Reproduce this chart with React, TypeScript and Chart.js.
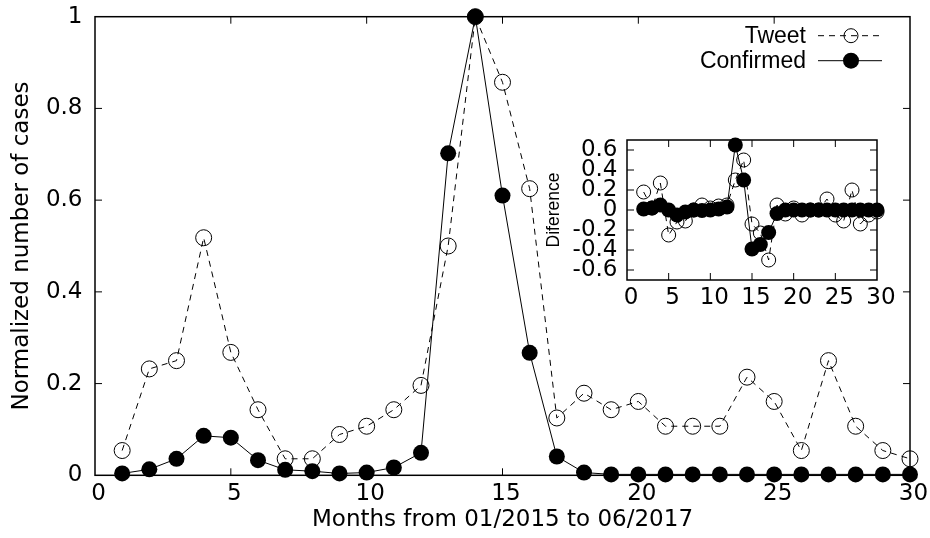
import React, { useEffect, useRef } from "react";
import { Chart, registerables } from "chart.js";

Chart.register(...registerables);

// ---------------- data ----------------
const months = [1, 2, 3, 4, 5, 6, 7, 8, 9, 10, 11, 12, 13, 14, 15, 16, 17, 18, 19, 20, 21, 22, 23, 24, 25, 26, 27, 28, 29, 30];
const tweet = [0.054, 0.232, 0.25, 0.518, 0.268, 0.143, 0.036, 0.036, 0.089, 0.107, 0.143, 0.196, 0.5, 1.0, 0.857, 0.625, 0.125, 0.179, 0.143, 0.161, 0.107, 0.107, 0.107, 0.214, 0.161, 0.054, 0.25, 0.107, 0.054, 0.036];
const confirmed = [0.004, 0.013, 0.036, 0.086, 0.082, 0.033, 0.012, 0.009, 0.004, 0.006, 0.017, 0.049, 0.702, 1.0, 0.61, 0.267, 0.041, 0.006, 0.002, 0.002, 0.002, 0.002, 0.002, 0.002, 0.002, 0.002, 0.002, 0.002, 0.002, 0.002];

const diffMonths = [2, 3, 4, 5, 6, 7, 8, 9, 10, 11, 12, 13, 14, 15, 16, 17, 18, 19, 20, 21, 22, 23, 24, 25, 26, 27, 28, 29, 30];
const tweetDiff = [0.18, 0.02, 0.27, -0.25, -0.12, -0.11, 0.0, 0.05, 0.02, 0.04, 0.05, 0.3, 0.5, -0.14, -0.23, -0.5, 0.05, -0.04, 0.02, -0.05, 0.0, 0.0, 0.11, -0.05, -0.11, 0.2, -0.14, -0.05, -0.02];
const confirmedDiff = [0.01, 0.02, 0.05, 0.0, -0.05, -0.02, 0.0, -0.005, 0.0, 0.01, 0.03, 0.65, 0.3, -0.39, -0.345, -0.225, -0.035, 0.0, 0.0, 0.0, 0.0, 0.0, 0.0, 0.0, 0.0, 0.0, 0.0, 0.0, 0.0];

const mainXTicks = [0, 5, 10, 15, 20, 25, 30];
const mainXLabels = ["0", "5", "10", "15", "20", "25", "30"];
const mainYTicks = [0, 0.2, 0.4, 0.6, 0.8, 1];
const mainYLabels = ["0", "0.2", "0.4", "0.6", "0.8", "1"];
const insetXTicks = [0, 5, 10, 15, 20, 25, 30];
const insetXLabels = ["0", "5", "10", "15", "20", "25", "30"];
const insetYTicks = [-0.6, -0.4, -0.2, 0, 0.2, 0.4, 0.6];
const insetYLabels = ["-0.6", "-0.4", "-0.2", "0", "0.2", "0.4", "0.6"];

const seriesNames = ["Tweet", "Confirmed"];
const xTitle = "Months from 01/2015 to 06/2017";
const yTitle = "Normalized number of cases";
const insetYTitle = "Diference";

const W = 930;
const H = 538;
const SANS = "'DejaVu Sans', sans-serif";
const ARIAL = "'Liberation Sans', Arial, sans-serif";

const toXY = (xs: number[], ys: number[]) => xs.map((x, i) => ({ x, y: ys[i] }));

// -------------- plugins --------------
const framePlugin = {
  id: "gpFrame",
  beforeDatasetsDraw(chart: any, _args: any, opts: any) {
    const { ctx, chartArea } = chart;
    const { left, right, top, bottom } = chartArea;
    const xs = chart.scales.x;
    const ys = chart.scales.y;
    const L = opts.tickLen ?? 7;
    ctx.save();
    ctx.strokeStyle = "#000";
    ctx.lineWidth = 1;
    ctx.beginPath();
    for (const t of xs.ticks) {
      const px = xs.getPixelForValue(t.value);
      if (px <= left + 1 || px >= right - 1) continue;
      ctx.moveTo(px, bottom);
      ctx.lineTo(px, bottom - L);
      ctx.moveTo(px, top);
      ctx.lineTo(px, top + L);
    }
    for (const t of ys.ticks) {
      const py = ys.getPixelForValue(t.value);
      if (py <= top + 1 || py >= bottom - 1) continue;
      ctx.moveTo(left, py);
      ctx.lineTo(left + L, py);
      ctx.moveTo(right, py);
      ctx.lineTo(right - L, py);
    }
    ctx.stroke();
    ctx.lineWidth = opts.frameWidth ?? 1.5;
    ctx.strokeRect(left, top, right - left, bottom - top);
    ctx.restore();
  },
};

const legendPlugin = {
  id: "gpLegend",
  afterDatasetsDraw(chart: any, _args: any, opts: any) {
    if (!opts || !opts.show) return;
    const { ctx, chartArea } = chart;
    const textRight = chartArea.right - 104;
    const lineL = chartArea.right - 92;
    const lineR = chartArea.right - 28;
    const cx = chartArea.right - 59;
    const row1 = chartArea.top + 19;
    const row2 = chartArea.top + 44;
    ctx.save();
    ctx.fillStyle = "#000";
    ctx.strokeStyle = "#000";
    ctx.font = `23px ${ARIAL}`;
    ctx.textAlign = "right";
    ctx.textBaseline = "middle";
    ctx.fillText(seriesNames[0], textRight, row1 + 1);
    ctx.fillText(seriesNames[1], textRight, row2 + 1);
    // Tweet sample
    ctx.lineWidth = 1;
    ctx.setLineDash([6, 5]);
    ctx.beginPath();
    ctx.moveTo(lineL, row1);
    ctx.lineTo(lineR, row1);
    ctx.stroke();
    ctx.setLineDash([]);
    ctx.beginPath();
    ctx.arc(cx, row1, 7, 0, Math.PI * 2);
    ctx.stroke();
    // Confirmed sample
    ctx.beginPath();
    ctx.moveTo(lineL, row2);
    ctx.lineTo(lineR, row2);
    ctx.stroke();
    ctx.beginPath();
    ctx.arc(cx, row2, 8, 0, Math.PI * 2);
    ctx.fill();
    ctx.restore();
  },
};

function fixedAxis(size: number, horizontal: boolean) {
  return (s: any) => {
    if (horizontal) s.height = size;
    else s.width = size;
    s.paddingLeft = 0;
    s.paddingRight = 0;
    s.paddingTop = 0;
    s.paddingBottom = 0;
  };
}

function setTicks(values: number[]) {
  return (s: any) => {
    s.ticks = values.map((v) => ({ value: v }));
  };
}

function labelFor(values: number[], labels: string[]) {
  return (v: any) => {
    const i = values.findIndex((t) => Math.abs(t - Number(v)) < 1e-9);
    return i >= 0 ? labels[i] : "";
  };
}

export default function App() {
  const mainRef = useRef<HTMLCanvasElement>(null);
  const insetRef = useRef<HTMLCanvasElement>(null);

  useEffect(() => {
    const mainChart = new Chart(mainRef.current as HTMLCanvasElement, {
      type: "line",
      data: {
        datasets: [
          {
            label: seriesNames[0],
            data: toXY(months, tweet),
            borderColor: "#000",
            borderWidth: 1,
            borderDash: [6, 5],
            pointRadius: 8,
            pointBorderWidth: 1,
            pointBorderColor: "#000",
            pointBackgroundColor: "rgba(0,0,0,0)",
            tension: 0,
            clip: false as any,
            order: 2,
          },
          {
            label: seriesNames[1],
            data: toXY(months, confirmed),
            borderColor: "#000",
            borderWidth: 1,
            pointRadius: 8,
            pointBorderWidth: 0,
            pointBorderColor: "#000",
            pointBackgroundColor: "#000",
            tension: 0,
            clip: false as any,
            order: 1,
          },
        ],
      },
      options: {
        animation: false,
        responsive: false,
        events: [],
        layout: { padding: { left: 0, right: 20, top: 16.7, bottom: 0 } },
        plugins: {
          legend: { display: false },
          tooltip: { enabled: false },
          gpFrame: { tickLen: 7, frameWidth: 1.5 },
          gpLegend: { show: true },
        } as any,
        scales: {
          x: {
            type: "linear",
            min: 0,
            max: 30,
            afterBuildTicks: setTicks(mainXTicks),
            afterFit: fixedAxis(62.7, true),
            grid: { display: false, drawTicks: false },
            border: { display: false },
            ticks: {
              color: "#000",
              font: { family: SANS, size: 23, lineHeight: 1.2 },
              padding: 5,
              labelOffset: 3.5,
              maxRotation: 0,
              autoSkip: false,
              callback: labelFor(mainXTicks, mainXLabels),
            },
            title: {
              display: true,
              text: xTitle,
              color: "#000",
              font: { family: SANS, size: 23, lineHeight: 1.2 },
              padding: { top: 0, bottom: 4.2 },
            },
          },
          y: {
            type: "linear",
            min: 0,
            max: 1,
            afterBuildTicks: setTicks(mainYTicks),
            afterFit: fixedAxis(95, false),
            grid: { display: false, drawTicks: false },
            border: { display: false },
            ticks: {
              color: "#000",
              font: { family: SANS, size: 23, lineHeight: 1.2 },
              padding: 12.5,
              autoSkip: false,
              callback: labelFor(mainYTicks, mainYLabels),
            },
            title: {
              display: true,
              text: yTitle,
              color: "#000",
              font: { family: SANS, size: 23, lineHeight: 1.2 },
              padding: { top: 8.2, bottom: 0 },
            },
          },
        },
      },
      plugins: [framePlugin, legendPlugin],
    });

    const insetChart = new Chart(insetRef.current as HTMLCanvasElement, {
      type: "line",
      data: {
        datasets: [
          {
            label: seriesNames[0],
            data: toXY(diffMonths, tweetDiff),
            borderColor: "#000",
            borderWidth: 1,
            borderDash: [6, 5],
            pointRadius: 7,
            pointBorderWidth: 1,
            pointBorderColor: "#000",
            pointBackgroundColor: "rgba(0,0,0,0)",
            tension: 0,
            clip: false as any,
            order: 2,
          },
          {
            label: seriesNames[1],
            data: toXY(diffMonths, confirmedDiff),
            borderColor: "#000",
            borderWidth: 1,
            pointRadius: 7.5,
            pointBorderWidth: 0,
            pointBackgroundColor: "#000",
            tension: 0,
            clip: false as any,
            order: 1,
          },
        ],
      },
      options: {
        animation: false,
        responsive: false,
        events: [],
        layout: { padding: { left: 537, right: 53, top: 140, bottom: 228 } },
        plugins: {
          legend: { display: false },
          tooltip: { enabled: false },
          gpFrame: { tickLen: 7, frameWidth: 1.5 },
          gpLegend: { show: false },
        } as any,
        scales: {
          x: {
            type: "linear",
            min: 0,
            max: 30,
            afterBuildTicks: setTicks(insetXTicks),
            afterFit: fixedAxis(30, true),
            grid: { display: false, drawTicks: false },
            border: { display: false },
            ticks: {
              color: "#000",
              font: { family: SANS, size: 23, lineHeight: 1.2 },
              padding: 4.2,
              labelOffset: 4,
              maxRotation: 0,
              autoSkip: false,
              callback: labelFor(insetXTicks, insetXLabels),
            },
          },
          y: {
            type: "linear",
            min: -0.7,
            max: 0.7,
            afterBuildTicks: setTicks(insetYTicks),
            afterFit: fixedAxis(90, false),
            grid: { display: false, drawTicks: false },
            border: { display: false },
            ticks: {
              color: "#000",
              font: { family: SANS, size: 23, lineHeight: 1.2 },
              padding: 9.5,
              autoSkip: false,
              callback: labelFor(insetYTicks, insetYLabels),
            },
            title: {
              display: true,
              text: insetYTitle,
              color: "#000",
              font: { family: ARIAL, size: 17.5, lineHeight: 1.2 },
              padding: { top: 7, bottom: 0 },
            },
          },
        },
      },
      plugins: [framePlugin],
    });

    return () => {
      mainChart.destroy();
      insetChart.destroy();
    };
  }, []);

  const canvasStyle: React.CSSProperties = {
    position: "absolute",
    left: 0,
    top: 0,
    width: W,
    height: H,
  };

  return (
    <div style={{ position: "absolute", left: 0, top: 0, width: W, height: H, background: "#fff" }}>
      <canvas ref={mainRef} width={W} height={H} style={canvasStyle} />
      <canvas ref={insetRef} width={W} height={H} style={canvasStyle} />
    </div>
  );
}
